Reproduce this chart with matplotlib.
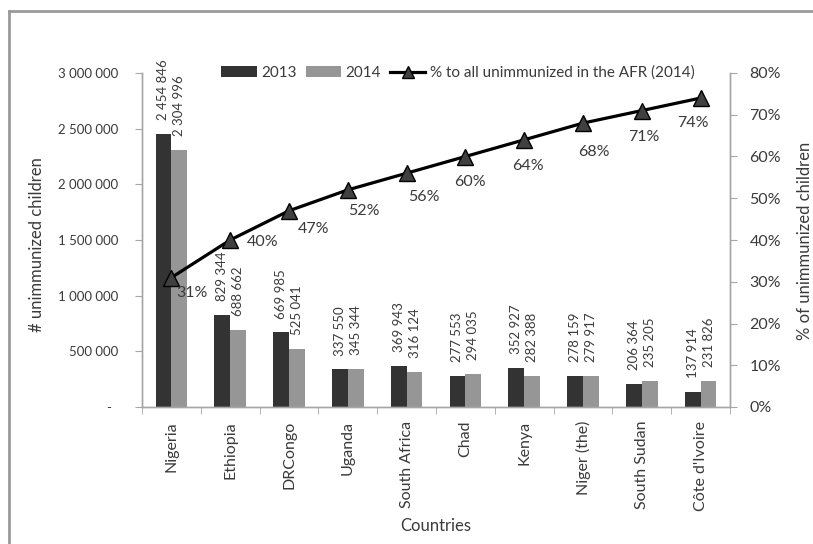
import numpy as np
import matplotlib.pyplot as plt
from matplotlib.lines import Line2D
from matplotlib.ticker import FuncFormatter

plt.rcParams['font.family'] = ['Lato', 'DejaVu Sans']

countries = ['Nigeria', 'Ethiopia', 'DRCongo', 'Uganda', 'South Africa', 'Chad',
             'Kenya', 'Niger (the)', 'South Sudan', "Côte d'Ivoire"]
unimm_2013 = [2454846, 829344, 669985, 337550, 369943, 277553, 352927, 278159, 206364, 137914]
unimm_2014 = [2304996, 688662, 525041, 345344, 316124, 294035, 282388, 279917, 235205, 231826]
pct_cum_2014 = [31, 40, 47, 52, 56, 60, 64, 68, 71, 74]

# label offsets of the % labels (pixels right / down from the marker)
pct_offsets = [(21, 15), (32, 2), (25, 18), (16, 21), (17, 24),
               (5, 25), (4, 26), (11, 29), (2, 26), (-8, 25)]

txt = '#3a3a3a'
grid_c = '#a6a6a6'
c13 = '#333333'
c14 = '#969696'


def spaced(v):
    return '{:,}'.format(int(v)).replace(',', ' ')


fig = plt.figure(figsize=(8.13, 5.44), dpi=100)
ax = fig.add_axes([142 / 813, 137 / 544, 588 / 813, 334 / 544])
ax2 = ax.twinx()

x = np.arange(len(countries))
w = 0.27
b13 = ax.bar(x - w / 2, unimm_2013, w, color=c13, label='2013', zorder=2)
b14 = ax.bar(x + w / 2, unimm_2014, w, color=c14, label='2014', zorder=2)

for xi, v in zip(x - w / 2, unimm_2013):
    ax.annotate(spaced(v), (xi, v), xytext=(0, 10), textcoords='offset points',
                rotation=90, ha='center', va='bottom', fontsize=9.5, color=txt)
for xi, v in zip(x + w / 2, unimm_2014):
    ax.annotate(spaced(v), (xi, v), xytext=(0, 10), textcoords='offset points',
                rotation=90, ha='center', va='bottom', fontsize=9.5, color=txt)

ax.set_xlim(-0.5, len(countries) - 0.5)
ax.set_ylim(0, 3000000)
ax.set_yticks(np.arange(0, 3000001, 500000))
ax.yaxis.set_major_formatter(FuncFormatter(lambda v, p: '-  ' if v == 0 else spaced(v)))
ax.set_xticks(x)
ax.set_xticklabels(countries, rotation=90, fontsize=11.5, color=txt)
ax.set_xticks(np.arange(-0.5, len(countries)), minor=True)
ax.tick_params(axis='x', which='major', length=0, pad=10)
ax.tick_params(axis='x', which='minor', length=5, color=grid_c, direction='out')
ax.tick_params(axis='y', length=5, color=grid_c, labelsize=9.5, labelcolor=txt, pad=12)

line, = ax2.plot(x, np.array(pct_cum_2014) / 100, color='black', lw=2.3,
                 marker='^', markersize=11, markerfacecolor='#404040',
                 markeredgecolor='black', markeredgewidth=1, zorder=3,
                 label='% to all unimmunized in the AFR (2014)')
for xi, p, (dx, dy) in zip(x, pct_cum_2014, pct_offsets):
    ax2.annotate('{}%'.format(p), (xi, p / 100), xytext=(dx * 0.72, -dy * 0.72),
                 textcoords='offset points', ha='center', va='center',
                 fontsize=11.5, color=txt)
ax2.set_ylim(0, 0.8)
ax2.set_yticks(np.arange(0, 0.81, 0.1))
ax2.yaxis.set_major_formatter(FuncFormatter(lambda v, p: '{:.0f}%'.format(v * 100)))
ax2.tick_params(axis='y', length=5, color=grid_c, labelsize=11.5, labelcolor=txt, pad=9)

for a in (ax, ax2):
    a.spines['top'].set_visible(False)
    for s in ('left', 'right', 'bottom'):
        a.spines[s].set_color(grid_c)
        a.spines[s].set_linewidth(1)

ax.set_ylabel('# unimmunized children', fontsize=12, color=txt)
ax.yaxis.set_label_coords(-0.165, 0.485)
ax2.set_ylabel('% of unimmunized children', fontsize=12, color=txt)
ax2.yaxis.set_label_coords(1.114, 0.497)
ax.set_xlabel('Countries', fontsize=12, color=txt)
ax.xaxis.set_label_coords(0.5, -0.332)

fig.legend([b13, b14, line], ['2013', '2014', '% to all unimmunized in the AFR (2014)'],
           loc='center', bbox_to_anchor=(458 / 813, 1 - 73 / 544), ncol=3, frameon=False,
           fontsize=11, handlelength=2.3, handletextpad=0.3, columnspacing=0.6,
           markerscale=0.75, labelcolor=txt)

# outer frame (top and left edges visible)
fig.add_artist(Line2D([9 / 813, 1], [1 - 11 / 544, 1 - 11 / 544], color='#9a9a9a', lw=2))
fig.add_artist(Line2D([9 / 813, 9 / 813], [0, 1 - 11 / 544], color='#9a9a9a', lw=2))

fig.savefig('out.png', dpi=100)
